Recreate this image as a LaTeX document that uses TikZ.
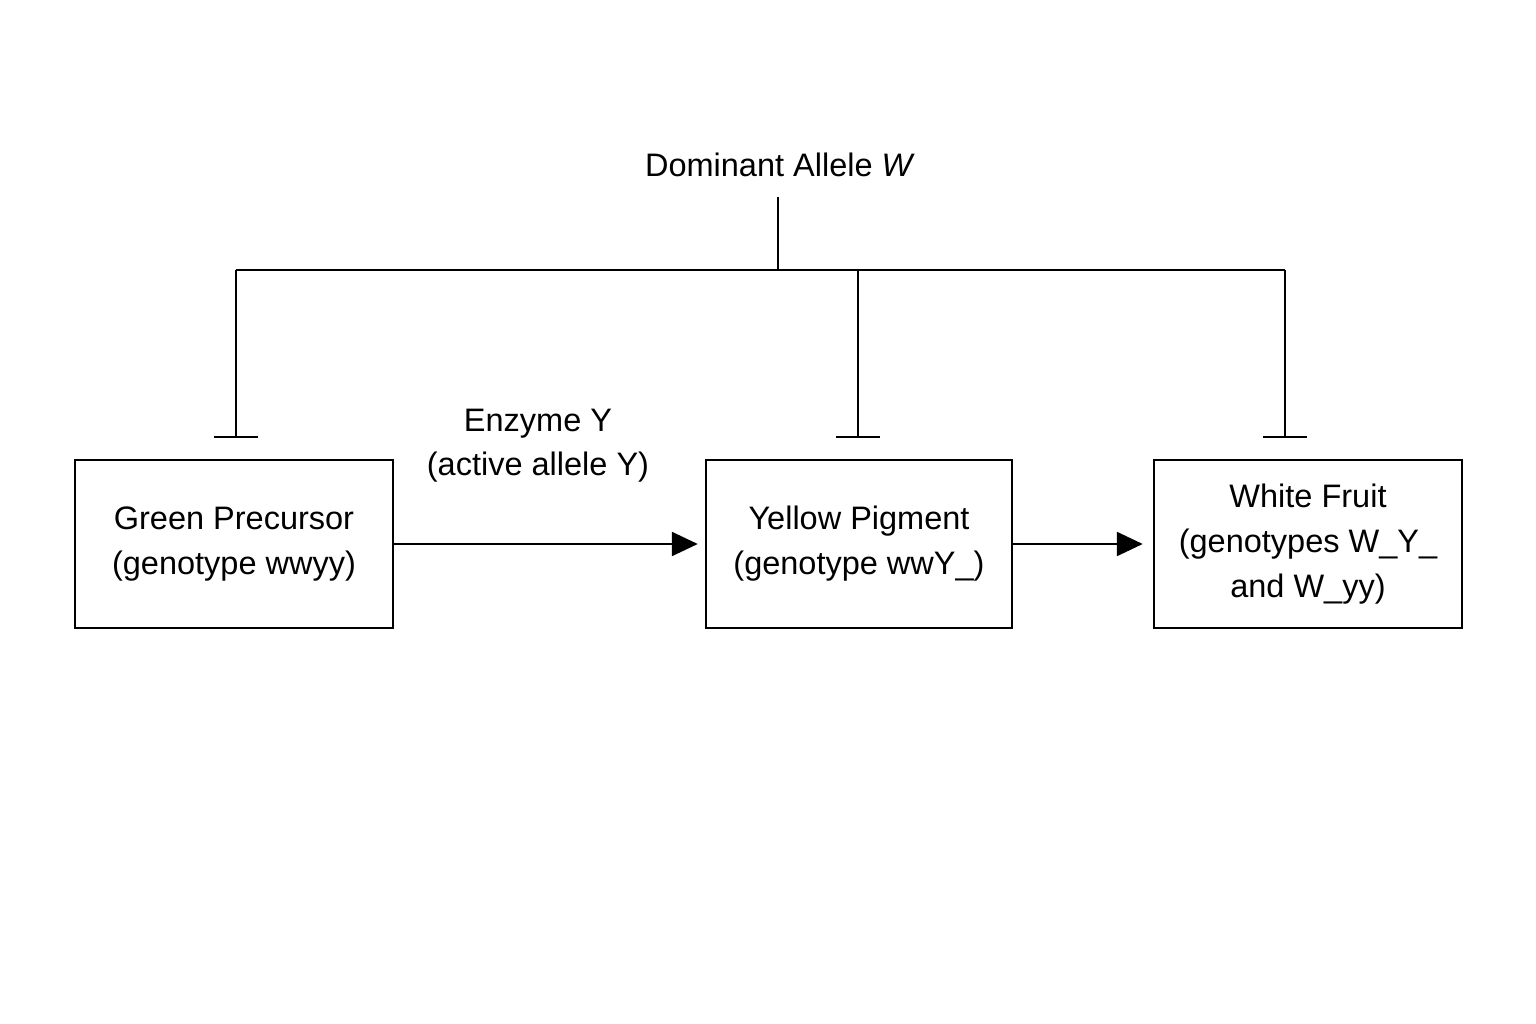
\documentclass[tikz,border=0pt]{standalone}
\usepackage{fontspec}
\setmainfont{Liberation Sans}
\usetikzlibrary{arrows.meta}
\begin{document}
\begin{tikzpicture}[x=1pt,y=-1pt,line width=2.5pt,
  box/.style={draw,rectangle,align=center,font=\fontsize{32.5}{45}\selectfont},
  lbl/.style={align=center,font=\fontsize{32.5}{44}\selectfont},
  arr/.style={-{Triangle[length=26pt,width=24pt]}},
  inh/.style={-{Bar[width=44pt]}}]
\useasboundingbox (0,0) rectangle (1536,1024);
\node[lbl] (title) at (780,165) {Dominant Allele \textit{W}};
\node[box,minimum width=318pt,minimum height=168pt] (A) at (234,544) {Green Precursor\\(genotype wwyy)};
\node[box,minimum width=306pt,minimum height=168pt] (B) at (859,544) {Yellow Pigment\\(genotype wwY\_)};
\node[box,minimum width=308pt,minimum height=168pt] (C) at (1308,544) {White Fruit\\(genotypes W\_Y\_\\and W\_yy)};
\node[lbl] (enz) at (538,446) {Enzyme Y\\(active allele Y)};
\coordinate (top) at (778,197);
\coordinate (j) at (778,270);
\coordinate (l) at (236,270);
\coordinate (m) at (858,270);
\coordinate (r) at (1285,270);
\coordinate (lb) at (236,438);
\coordinate (mb) at (858,438);
\coordinate (rb) at (1285,438);
\draw (top) -- (j);
\draw (l) -- (r);
\draw[inh] (l) -- (lb);
\draw[inh] (m) -- (mb);
\draw[inh] (r) -- (rb);
\draw[arr] (A.east) -- ([xshift=-7pt]B.west);
\draw[arr] (B.east) -- ([xshift=-10pt]C.west);
\end{tikzpicture}
\end{document}
